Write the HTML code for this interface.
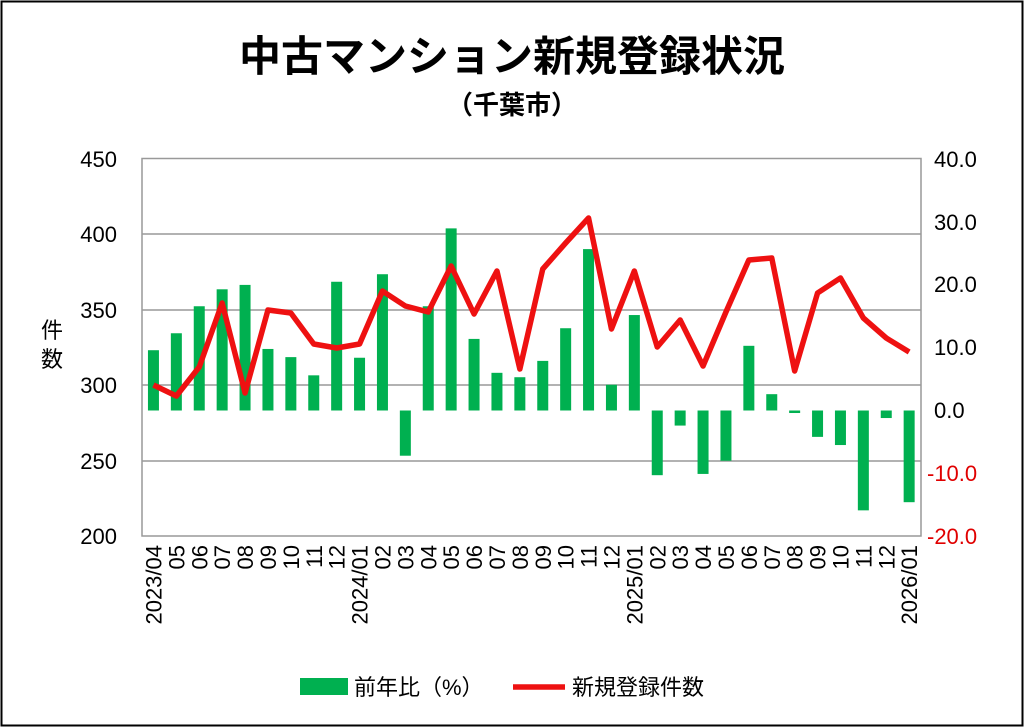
<!DOCTYPE html><html><head><meta charset="utf-8"><style>body{margin:0;background:#fff}svg{display:block}text{font-family:"Liberation Sans","Noto Sans CJK JP",sans-serif}</style></head><body>
<svg width="1024" height="727" viewBox="0 0 1024 727">
<rect x="1.5" y="1.5" width="1021" height="724" fill="#fff" stroke="#000" stroke-width="2"/>
<text x="512" y="71" font-size="42" font-weight="bold" text-anchor="middle">中古マンション新規登録状況</text>
<text x="512" y="114" font-size="26" font-weight="bold" text-anchor="middle">（千葉市）</text>
<g stroke="#999" stroke-width="1.5">
<line x1="142" y1="234" x2="921" y2="234"/><line x1="142" y1="310" x2="921" y2="310"/><line x1="142" y1="385" x2="921" y2="385"/><line x1="142" y1="461" x2="921" y2="461"/>
<rect x="142" y="158.5" width="779" height="377.5" fill="none"/>
</g>
<g font-size="22" text-anchor="end"><text x="117" y="167">450</text><text x="117" y="242">400</text><text x="117" y="318">350</text><text x="117" y="393">300</text><text x="117" y="469">250</text><text x="117" y="544">200</text></g>
<g font-size="22"><text x="934" y="167">40.0</text><text x="934" y="230">30.0</text><text x="934" y="292">20.0</text><text x="934" y="355">10.0</text><text x="934" y="418">0.0</text><g fill="#e00000"><text x="927" y="481">-10.0</text><text x="927" y="544">-20.0</text></g></g>
<text x="52" y="338" font-size="22" text-anchor="middle">件</text><text x="52" y="367" font-size="22" text-anchor="middle">数</text>
<g id="bars" fill="#00b050"></g>
<polyline id="ln" fill="none" stroke="#ee1111" stroke-width="5.5" stroke-linejoin="round"/>
<g id="lab" font-size="22"></g>
<rect x="300" y="678" width="48" height="17" fill="#00b050"/>
<text x="354" y="695" font-size="22">前年比（%）</text>
<line x1="513" y1="687" x2="565" y2="687" stroke="#ee1111" stroke-width="5.5"/>
<text x="572" y="695" font-size="22">新規登録件数</text>
</svg>
<script>
var b=[9.6,12.3,16.6,19.3,20,9.8,8.5,5.6,20.5,8.4,21.7,-7.2,16.6,29,11.4,6,5.3,7.9,13.1,25.7,4.1,15.2,-10.3,-2.4,-10.1,-8,10.3,2.6,-0.4,-4.2,-5.5,-15.9,-1.2,-14.6];
var l=[385,396,367,303,393,310,313,344,348,344,291,306,312,266,314,271,369,269,243,218,329,271,347,320,366,312,260,258,371,293,278,318,338,352];
var labs=["2023/04","05","06","07","08","09","10","11","12","2024/01","02","03","04","05","06","07","08","09","10","11","12","2025/01","02","03","04","05","06","07","08","09","10","11","12","2026/01"];
var ns="http://www.w3.org/2000/svg",g=document.getElementById("bars"),lg=document.getElementById("lab"),pts=[];
for(var i=0;i<34;i++){var cx=142+22.9*(i+0.5);var z=410.5,y=z-b[i]*6.28;
var r=document.createElementNS(ns,"rect");r.setAttribute("x",cx-5.5);r.setAttribute("width",11);r.setAttribute("y",Math.min(y,z));r.setAttribute("height",Math.max(Math.abs(y-z),1.5));g.appendChild(r);
pts.push(cx+","+l[i]);
var t=document.createElementNS(ns,"text");t.setAttribute("transform","translate("+(cx+8)+",545) rotate(-90)");t.setAttribute("text-anchor","end");t.textContent=labs[i];lg.appendChild(t);}
document.getElementById("ln").setAttribute("points",pts.join(" "));
</script>
</body></html>
